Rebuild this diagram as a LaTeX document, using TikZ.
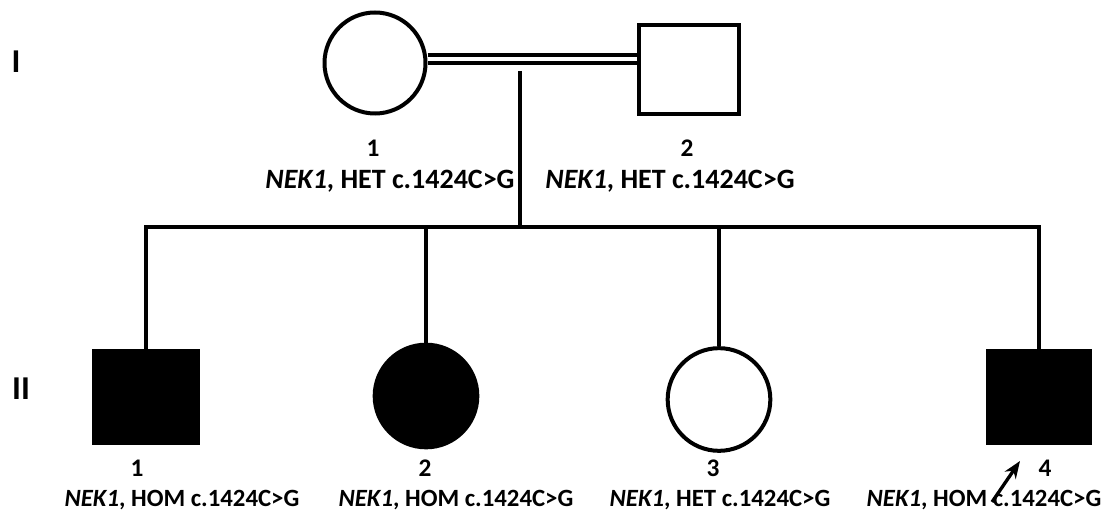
\documentclass[tikz,border=0pt]{standalone}
\usepackage{fontspec}
\setmainfont{Carlito}
\usetikzlibrary{arrows.meta}

\begin{document}
\begin{tikzpicture}[x=0.75pt,y=0.75pt,yscale=-1,xscale=1,
  line width=3pt,
  female/.style={draw,circle,inner sep=0pt,minimum size=77pt},
  male/.style={draw,rectangle,inner sep=0pt,minimum width=77pt,minimum height=69pt},
  affected/.style={fill=black},
  idnum/.style={inner sep=0.75pt,font=\bfseries\fontsize{19}{22}\selectfont},
  geno/.style={inner sep=0.75pt,font=\bfseries\fontsize{18.6}{22}\selectfont},
  genotop/.style={inner sep=0.75pt,font=\bfseries\fontsize{21}{24}\selectfont},
  gen/.style={inner sep=0.75pt,font=\bfseries\fontsize{25}{28}\selectfont},
  proband/.style={-{Stealth[length=13pt,width=10pt]},line width=2.5pt}]
\path[use as bounding box] (0,0) rectangle (1113,513);

%Generation labels
\node[gen] (genI) at (16,62) {I};
\node[gen] (genII) at (21,389) {II};

%Parents
\node[female,minimum size=75.75pt] (I1) at (375,63) {};
\node[male,minimum width=75pt,minimum height=67pt] (I2) at (689,69.5) {};

%Consanguineous mating line
\draw (I1.east) -- (I1.east -| I2.west);
\draw ([yshift=-6pt]I1.east) -- ([yshift=-6pt]I1.east -| I2.west);
\coordinate (mate) at (520,71);
\coordinate (sib) at (520,227);
\draw (mate) -- (sib);

%Children
\node[male,affected,minimum width=78pt] (II1) at (146,397) {};
\node[female,affected] (II2) at (426,396) {};
\node[female] (II3) at (719,399.5) {};
\node[male,affected,minimum width=76.5pt] (II4) at (1039,397) {};

%Sibship line
\draw[line join=miter] (II1.north) |- (sib) -| (II4.north);
\draw (II2.north) -- (II2.north |- sib);
\draw (II3.north) -- (II3.north |- sib);

% Text Node
\node[idnum] (n-I1) at (373,148) {1};
\node[genotop] (g-I1) at (390,181) {\textit{NEK1}, HET c.1424C>G};
\node[idnum] (n-I2) at (687,148) {2};
\node[genotop] (g-I2) at (670,181) {\textit{NEK1}, HET c.1424C>G};
% Text Node
\node[idnum] (n-II1) at (137,468) {1};
\node[geno] (g-II1) at (182,500) {\textit{NEK1}, HOM c.1424C>G};
\node[idnum] (n-II2) at (425,468) {2};
\node[geno] (g-II2) at (456,500) {\textit{NEK1}, HOM c.1424C>G};
\node[idnum] (n-II3) at (713,468) {3};
\node[geno] (g-II3) at (720,500) {\textit{NEK1}, HET c.1424C>G};
\node[idnum] (n-II4) at (1045,468) {4};
\node[geno] (g-II4) at (984,500) {\textit{NEK1}, HOM c.1424C>G};

%Proband arrow
\coordinate (pa) at (992,502);
\coordinate (pb) at (1020,461);
\draw[proband] (pa) -- (pb);

\end{tikzpicture}
\end{document}
